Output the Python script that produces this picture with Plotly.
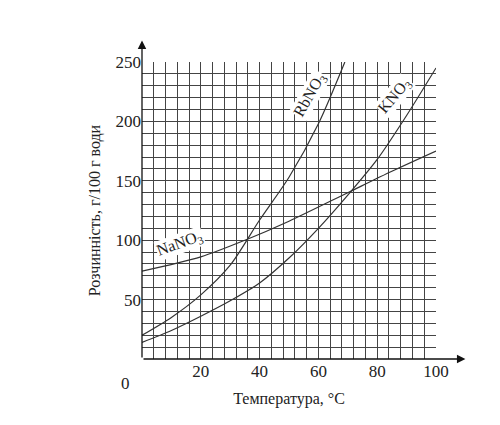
import plotly.graph_objects as go

t_na = [0, 20, 35, 50, 70, 85, 100]
s_na = [74, 86, 100, 116, 140, 158, 175]
t_rb = [0, 10, 20, 30, 40, 50, 60, 69]
s_rb = [20, 35, 54, 79, 117, 153, 198, 250]
t_k = [0, 10, 20, 30, 40, 50, 60, 70, 80, 90, 100]
s_k = [14, 24, 36, 49, 64, 85, 110, 138, 168, 205, 245]
x_ticks = [20, 40, 60, 80, 100]
y_ticks = [50, 100, 150, 200, 250]

F = "Liberation Serif, DejaVu Serif, serif"
fig = go.Figure()
for t, s in [(t_na, s_na), (t_rb, s_rb), (t_k, s_k)]:
    fig.add_trace(go.Scatter(x=t, y=s, mode="lines",
                             line=dict(color="#333", width=1.2, shape="spline", smoothing=0.8),
                             hoverinfo="skip", showlegend=False, cliponaxis=False))

fig.update_layout(
    width=500, height=425, margin=dict(l=134, r=72, t=54, b=74, autoexpand=False),
    plot_bgcolor="white", paper_bgcolor="white",
    font=dict(family=F, color="#222", size=17),
    xaxis=dict(range=[0, 100], tickvals=x_ticks, showgrid=False, zeroline=False, automargin=False,
               ticks="", showline=False,
               title=dict(text="Температура, °C", font=dict(size=16), standoff=12),
               minor=dict(dtick=4, showgrid=True, gridcolor="#444", gridwidth=1)),
    yaxis=dict(range=[0, 250], tickvals=y_ticks, showgrid=False, zeroline=False, ticks="", automargin=False,
               showline=False,
               title=dict(text="Розчинність, г/100 г води", font=dict(size=16), standoff=10),
               minor=dict(dtick=10, showgrid=True, gridcolor="#444", gridwidth=1)),
)
fig.add_annotation(x=110, y=0, ax=0, ay=0, xref="x", yref="y", axref="x", ayref="y",
                   showarrow=True, arrowhead=2, arrowsize=1.3, arrowwidth=1.3, arrowcolor="#111", text="")
fig.add_annotation(x=0, y=268, ax=0, ay=0, xref="x", yref="y", axref="x", ayref="y",
                   showarrow=True, arrowhead=2, arrowsize=1.3, arrowwidth=1.3, arrowcolor="#111", text="")
fig.add_annotation(x=-0.057, y=-0.045, xref="paper", yref="paper", text="0", showarrow=False,
                   font=dict(size=17), yanchor="top", xanchor="center")
labels = [("NaNO<sub>3</sub>", 13, 97, -20), ("RbNO<sub>3</sub>", 57, 222, -60), ("KNO<sub>3</sub>", 86, 222, -50)]
for txt, x, y, a in labels:
    fig.add_annotation(x=x, y=y, text=txt, textangle=a, showarrow=False, bgcolor="white",
                       font=dict(size=16), borderpad=0)
fig.write_html("out.html")
